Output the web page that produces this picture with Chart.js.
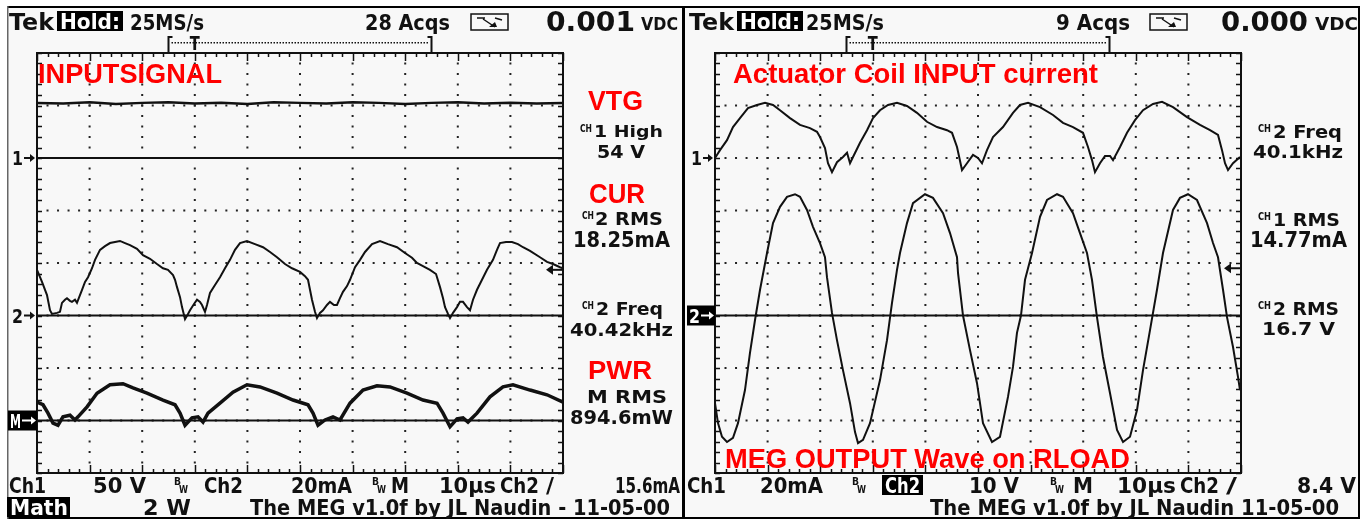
<!DOCTYPE html>
<html>
<head>
<meta charset="utf-8">
<script src="https://cdn.jsdelivr.net/npm/chart.js@4.4.1/dist/chart.umd.min.js"></script>
<style>
  body { margin: 0; background: #fff; width: 1362px; height: 520px; overflow: hidden; position: relative; }
  canvas { position: absolute; top: 0; }
  #left { left: 0; }
  #right { left: 682px; }
</style>
</head>
<body>
<canvas id="left" width="682" height="520"></canvas>
<canvas id="right" width="680" height="520"></canvas>
<script>
// time in µs (10 µs/div), level in screen divisions (0 = bottom, 8 = top)

// left screen: CH1 VTG, CH2 CUR, M PWR
const vtgTrace = [[0,7.05],[5,7.04],[10,7.06],[15,7.03],[20,7.05],[25,7.06],[30,7.04],[35,7.05],[40,7.03],[45,7.06],[50,7.05],[55,7.04],[60,7.06],[65,7.05],[70,7.03],[75,7.05],[80,7.06],[85,7.04],[90,7.05],[95,7.04],[100,7.05]];
const curTrace = [[0,3.87],[0.95,3.64],[1.9,3.39],[2.47,3.10],[2.85,3.03],[3.8,3.05],[4.37,3.07],[4.75,3.24],[5.32,3.30],[5.7,3.33],[6.27,3.28],[6.65,3.26],[7.22,3.30],[7.6,3.24],[8.17,3.39],[8.56,3.49],[9.13,3.64],[9.7,3.73],[10.46,3.90],[11.03,4.06],[11.98,4.25],[12.93,4.32],[13.88,4.38],[14.83,4.40],[15.78,4.42],[16.73,4.38],[17.68,4.34],[19.01,4.27],[20.15,4.15],[21.48,4.08],[22.81,3.98],[23.95,3.90],[24.9,3.87],[25.86,3.77],[26.24,3.68],[26.62,3.54],[27.19,3.35],[27.57,3.16],[28.14,2.93],[28.71,3.03],[29.09,3.10],[29.85,3.22],[30.42,3.30],[30.99,3.26],[31.37,3.20],[31.94,3.07],[32.32,3.20],[32.89,3.43],[33.84,3.58],[34.79,3.73],[35.74,3.90],[36.69,4.06],[37.64,4.25],[38.59,4.38],[39.92,4.42],[41.44,4.36],[42.97,4.30],[44.3,4.21],[45.63,4.11],[47.15,3.98],[48.48,3.90],[50,3.83],[50.95,3.75],[51.52,3.68],[51.9,3.49],[52.28,3.30],[52.85,3.07],[53.23,2.95],[53.8,3.05],[54.37,3.10],[55.13,3.20],[55.7,3.26],[56.46,3.20],[57.03,3.20],[57.6,3.33],[58.17,3.45],[58.94,3.56],[59.51,3.68],[60.46,3.92],[61.41,4.06],[62.36,4.21],[63.69,4.36],[65.21,4.42],[66.73,4.36],[68.44,4.30],[69.96,4.19],[71.29,4.10],[72.24,4.00],[73.38,3.94],[74.71,3.87],[75.86,3.79],[76.62,3.54],[77.19,3.33],[77.57,3.16],[78.14,3.03],[78.52,2.95],[79.09,3.05],[79.85,3.16],[80.42,3.26],[80.99,3.26],[81.75,3.16],[82.32,3.10],[82.89,3.30],[83.65,3.49],[84.6,3.68],[85.55,3.87],[86.69,4.06],[87.45,4.25],[88.02,4.38],[89.16,4.40],[90.3,4.40],[91.44,4.36],[92.4,4.30],[93.73,4.23],[95.63,4.11],[96.96,4.02],[98.1,3.98],[99.43,3.92],[100,3.90]];
const pwrTrace = [[0,1.35],[1.14,1.30],[2.09,1.14],[3.04,0.95],[3.99,0.91],[4.94,1.07],[6.27,1.10],[7.22,1.01],[7.79,1.07],[9.51,1.26],[11.41,1.52],[13.88,1.68],[16.35,1.70],[18.25,1.62],[20.91,1.52],[23.95,1.39],[26.24,1.30],[27.19,1.14],[28.14,0.91],[29.47,1.05],[30.61,1.07],[31.56,0.97],[32.51,1.14],[34.79,1.33],[37.26,1.54],[39.92,1.68],[42.4,1.64],[45.63,1.52],[48.67,1.39],[51.52,1.30],[52.47,1.14],[53.42,0.91],[54.75,1.01],[56.27,1.07],[57.6,1.01],[59.51,1.33],[61.98,1.58],[64.64,1.66],[67.11,1.64],[70.34,1.52],[73.38,1.39],[76.05,1.33],[77.19,1.14],[78.52,0.88],[79.85,1.03],[80.99,1.05],[81.94,0.97],[83.65,1.14],[86.12,1.45],[88.59,1.64],[90.49,1.68],[93.73,1.58],[96.96,1.49],[100,1.35]];
const leftGrounds = [6, 3, 1];

// right screen: CH1 coil current, CH2 MEG output
const coilTrace = [[0,6.00],[0.95,6.15],[2.28,6.34],[3.42,6.59],[4.75,6.76],[6.27,6.95],[7.98,7.01],[9.51,7.05],[11.03,7.01],[12.36,6.91],[14.26,6.76],[16.16,6.63],[18.06,6.57],[19.39,6.50],[19.96,6.40],[20.91,6.19],[21.48,5.90],[22.24,5.73],[23.19,5.92],[24.33,6.02],[25.1,6.10],[25.67,5.90],[26.24,6.02],[27.57,6.29],[28.9,6.53],[30.04,6.76],[31.37,6.91],[32.89,7.01],[34.6,7.05],[36.5,6.99],[38.4,6.86],[40.3,6.69],[42.21,6.59],[44.11,6.53],[45.06,6.48],[46.01,6.21],[46.96,5.77],[47.91,5.90],[49.05,6.06],[50,6.00],[50.76,5.90],[51.71,6.15],[52.85,6.40],[54.75,6.59],[56.65,6.86],[57.98,7.01],[59.51,7.05],[61.79,6.97],[64.26,6.82],[66.16,6.67],[68.06,6.59],[69.96,6.48],[70.91,6.21],[71.67,5.96],[72.24,5.73],[73.19,5.90],[74.14,6.04],[75.1,6.04],[75.67,5.96],[77,6.21],[78.33,6.48],[79.85,6.72],[81.37,6.91],[83.27,7.03],[84.98,7.07],[87.07,6.97],[89.73,6.78],[92.21,6.63],[94.11,6.53],[95.63,6.44],[96.39,6.15],[96.96,5.90],[97.53,5.77],[98.48,5.90],[99.81,6.02]];
const megTrace = [[0,1.33],[0.57,0.95],[1.33,0.69],[2.28,0.59],[3.42,0.67],[4.37,0.95],[5.7,1.58],[6.65,2.29],[7.6,2.91],[8.56,3.49],[9.89,4.19],[11.03,4.76],[12.36,5.07],[13.69,5.26],[15.21,5.31],[16.16,5.26],[17.49,5.01],[18.63,4.69],[19.96,4.38],[20.91,4.11],[21.29,3.73],[22.24,3.05],[23.19,2.53],[24.33,1.96],[25.67,1.33],[26.62,0.78],[27.19,0.57],[28.14,0.63],[29.47,0.95],[31.37,1.77],[32.7,2.53],[33.65,3.24],[34.6,3.87],[35.17,4.19],[36.5,4.76],[37.64,5.14],[39.92,5.31],[41.44,5.24],[43.35,4.95],[44.68,4.57],[46.01,4.11],[46.2,3.81],[47.15,3.00],[48.48,2.34],[49.81,1.71],[50.95,0.95],[52.66,0.59],[54.18,0.69],[55.7,1.45],[56.65,2.02],[57.41,2.67],[58.17,3.00],[58.94,3.68],[60.27,4.19],[61.79,4.88],[63.12,5.20],[65.02,5.31],[66.16,5.26],[68.06,4.95],[69.39,4.57],[70.72,4.19],[71.67,3.68],[72.62,2.97],[73.76,2.21],[75.1,1.52],[76.43,0.82],[77.57,0.59],[78.9,0.69],[80.23,1.20],[81.37,1.96],[82.7,2.72],[84.03,3.49],[85.17,4.19],[87.07,5.01],[88.4,5.24],[89.92,5.31],[91.63,5.20],[93.54,4.76],[94.68,4.38],[95.63,4.11],[96.58,3.49],[97.34,2.97],[98.48,2.40],[99.43,1.83],[99.81,1.58]];
const rightGrounds = [3];

const RED = '#ff0000';
const INK = '#111';

// text: [string, x0, x1, capTop, baseline, colour, inverseBox]
const leftTexts = [
  ['Tek', 9, 54, 13, 30], ['Hold:', 60, 120, 14, 29, '#fff', [57, 11, 123, 31]],
  ['25MS/s', 130, 204, 14, 30], ['28 Acqs', 365, 450, 14, 30],
  ['0.001', 546, 635, 12, 31], ['VDC', 641, 678, 17, 30],
  ['INPUTSIGNAL', 38, 222, 63, 83, RED], ['VTG', 588, 643, 90, 110, RED],
  ['CUR', 589, 645, 183, 203, RED], ['PWR', 588, 652, 360, 379, RED],
  ['CH', 580, 592, 125, 132], ['1 High', 594, 663, 125, 137], ['54 V', 597, 645, 145, 158],
  ['CH', 582, 594, 212, 219], ['2 RMS', 595, 663, 212, 225], ['18.25mA', 573, 670, 232, 247],
  ['CH', 582, 594, 302, 309], ['2 Freq', 596, 663, 302, 315], ['40.42kHz', 570, 673, 323, 336],
  ['M RMS', 587, 667, 390, 403], ['894.6mW', 570, 673, 410, 424],
  ['Ch1', 9, 46, 478, 493], ['50 V', 93, 146, 478, 493], ['B', 174, 181, 477, 485], ['W', 179, 188, 485, 493],
  ['Ch2', 204, 243, 478, 493], ['20mA', 291, 352, 478, 493], ['B', 372, 379, 477, 485], ['W', 377, 386, 485, 493],
  ['M', 391, 409, 478, 493], ['10µs', 439, 496, 478, 493], ['Ch2', 500, 539, 478, 493], ['/', 546, 554, 478, 493],
  ['15.6mA', 615, 680, 478, 493],
  ['Math', 10, 68, 500, 515, '#fff', [7, 497, 70, 517]], ['2 W', 143, 191, 500, 515],
  ['The MEG v1.0f by JL Naudin - 11-05-00', 250, 670, 499, 515]
];
const rightTexts = [
  ['Tek', 689, 734, 13, 30], ['Hold:', 740, 800, 14, 29, '#fff', [737, 11, 803, 31]],
  ['25MS/s', 806, 884, 14, 30], ['9 Acqs', 1056, 1130, 14, 30],
  ['0.000', 1221, 1308, 12, 31], ['VDC', 1315, 1358, 17, 30],
  ['Actuator Coil INPUT current', 733, 1098, 63, 83, RED],
  ['MEG OUTPUT Wave on RLOAD', 725, 1130, 448, 468, RED],
  ['CH', 1258, 1271, 125, 132], ['2 Freq', 1273, 1342, 125, 138], ['40.1kHz', 1253, 1343, 145, 158],
  ['CH', 1258, 1271, 213, 220], ['1 RMS', 1273, 1340, 213, 226], ['14.77mA', 1250, 1347, 232, 247],
  ['CH', 1258, 1271, 302, 309], ['2 RMS', 1273, 1339, 302, 315], ['16.7 V', 1262, 1335, 322, 335],
  ['Ch1', 687, 726, 478, 493], ['20mA', 760, 823, 478, 493], ['B', 852, 859, 477, 485], ['W', 857, 866, 485, 493],
  ['Ch2', 885, 920, 478, 493, '#fff', [882, 475, 923, 495]], ['10 V', 969, 1019, 478, 493],
  ['B', 1050, 1057, 477, 485], ['W', 1055, 1064, 485, 493], ['M', 1073, 1093, 478, 493],
  ['10µs', 1117, 1176, 478, 493], ['Ch2', 1180, 1219, 478, 493], ['/', 1226, 1237, 478, 493],
  ['8.4 V', 1297, 1356, 478, 493],
  ['The MEG v1.0f by JL Naudin 11-05-00', 930, 1339, 499, 515]
];

function fitText(ctx, s, x0, x1, top, base, color, family) {
  const size = (base - top) / 0.73;
  ctx.save();
  ctx.font = 'bold ' + size.toFixed(1) + 'px ' + family;
  const w = ctx.measureText(s).width || 1;
  ctx.translate(x0, base);
  ctx.scale((x1 - x0) / w, 1);
  ctx.fillStyle = color;
  ctx.textBaseline = 'alphabetic';
  ctx.fillText(s, 0, 0);
  ctx.restore();
}

function scopePlugin(cfg) {
  return {
    id: 'scope',
    beforeDraw(chart) {
      const ctx = chart.ctx, ox = cfg.ox;
      ctx.save();
      ctx.fillStyle = '#fff';
      ctx.fillRect(0, 0, chart.width, chart.height);
      ctx.fillStyle = '#f8f8f8';
      ctx.fillRect(cfg.frame[0] - ox, 8, cfg.frame[1] - cfg.frame[0], 510);
      // grid dots
      const xs = chart.scales.x, ys = chart.scales.y;
      ctx.fillStyle = '#222';
      for (let i = 1; i < 10; i++) {
        const px = xs.getPixelForValue(i * 10);
        for (let v = 0.2; v < 8; v += 0.2) ctx.fillRect(px - 1, ys.getPixelForValue(v) - 1, 2, 2);
      }
      for (let j = 1; j < 8; j++) {
        const py = ys.getPixelForValue(j);
        for (let t = 2; t < 100; t += 2) ctx.fillRect(xs.getPixelForValue(t) - 1, py - 1, 2, 2);
      }
      ctx.restore();
    },
    afterDatasetsDraw(chart) {
      const ctx = chart.ctx, ox = cfg.ox;
      const xs = chart.scales.x, ys = chart.scales.y;
      const a = chart.chartArea;
      ctx.save();
      // frame
      ctx.fillStyle = '#000';
      ctx.fillRect(cfg.frame[0] - ox, 6, cfg.frame[1] - cfg.frame[0], 2);
      ctx.fillRect(cfg.frame[0] - ox, 517, cfg.frame[1] - cfg.frame[0], 2);
      cfg.edges.forEach(([x, w, c]) => { ctx.fillStyle = c; ctx.fillRect(x - ox, 6, w, 513); });
      // border with rulers
      ctx.strokeStyle = '#111';
      ctx.lineWidth = 2;
      ctx.strokeRect(a.left, a.top, a.right - a.left, a.bottom - a.top);
      ctx.lineWidth = 1.5;
      ctx.beginPath();
      for (let k = 0; k <= 50; k++) {
        const px = Math.round(xs.getPixelForValue(k * 2)) + 0.5;
        const len = k % 5 === 0 ? 8 : 4;
        ctx.moveTo(px, a.top); ctx.lineTo(px, a.top + len);
        ctx.moveTo(px, a.bottom); ctx.lineTo(px, a.bottom - len);
      }
      for (let k = 0; k <= 40; k++) {
        const py = Math.round(ys.getPixelForValue(k * 0.2)) + 0.5;
        ctx.moveTo(a.left, py); ctx.lineTo(a.left + 5, py);
        ctx.moveTo(a.right, py); ctx.lineTo(a.right - 5, py);
      }
      ctx.stroke();
      // record bracket and trigger position
      const bx0 = xs.getPixelForValue(25), bx1 = xs.getPixelForValue(75), tx = xs.getPixelForValue(30);
      ctx.lineWidth = 2;
      ctx.beginPath();
      ctx.moveTo(bx0, 36); ctx.lineTo(bx0, a.top);
      ctx.moveTo(bx0, 37); ctx.lineTo(bx0 + 4, 37);
      ctx.moveTo(bx1, 36); ctx.lineTo(bx1, a.top);
      ctx.moveTo(bx1, 37); ctx.lineTo(bx1 - 4, 37);
      ctx.stroke();
      ctx.fillStyle = '#111';
      for (let x = bx0 + 3; x < bx1 - 2; x += 3) ctx.fillRect(x, 42, 1.5, 1.5);
      fitText(ctx, 'T', tx - 5, tx + 5, 36, 50, '#111', '"DejaVu Sans"');
      // trigger level arrow
      const ty = ys.getPixelForValue(cfg.trigLevel);
      ctx.beginPath();
      ctx.moveTo(a.right - 17, ty); ctx.lineTo(a.right - 10, ty - 5); ctx.lineTo(a.right - 10, ty + 5);
      ctx.closePath(); ctx.fill();
      ctx.fillRect(a.right - 11, ty - 1, 11, 2);
      // ground markers
      cfg.markers.forEach(([lab, x0, x1, level, inv]) => {
        const cy = ys.getPixelForValue(level);
        const lx0 = x0 - ox, lx1 = x1 - ox;
        const col = inv ? '#fff' : '#111';
        if (inv) { ctx.fillStyle = '#000'; ctx.fillRect(lx0, cy - 10, lx1 - lx0, 20); }
        fitText(ctx, lab, lx0 + 2, lx0 + 13, cy - 7, cy + 7, col, '"DejaVu Sans"');
        ctx.fillStyle = col;
        ctx.fillRect(lx0 + 14, cy - 1, lx1 - lx0 - 18, 2);
        ctx.beginPath();
        ctx.moveTo(lx1 - 1, cy); ctx.lineTo(lx1 - 6, cy - 4); ctx.lineTo(lx1 - 6, cy + 4);
        ctx.closePath(); ctx.fill();
      });
      // acquisition icon
      const ix = cfg.icon - ox;
      ctx.strokeStyle = '#111'; ctx.lineWidth = 1.5;
      ctx.strokeRect(ix, 14, 37, 16);
      ctx.beginPath();
      ctx.moveTo(ix + 6, 18); ctx.lineTo(ix + 14, 18);
      ctx.moveTo(ix + 12, 19); ctx.lineTo(ix + 24, 27);
      ctx.moveTo(ix + 24, 18); ctx.lineTo(ix + 31, 20);
      ctx.stroke();
      ctx.fillStyle = '#111';
      ctx.beginPath(); ctx.moveTo(ix + 18, 27); ctx.lineTo(ix + 26, 27); ctx.lineTo(ix + 24, 22); ctx.closePath(); ctx.fill();
      // texts
      cfg.texts.forEach(([s, x0, x1, top, base, color, box]) => {
        if (box) { ctx.fillStyle = '#000'; ctx.fillRect(box[0] - ox, box[1], box[2] - box[0], box[3] - box[1]); }
        const fam = color === RED ? '"Liberation Sans", Arial' : '"DejaVu Sans"';
        fitText(ctx, s, x0 - ox, x1 - ox, top, base, color || INK, fam);
      });
      ctx.restore();
    }
  };
}

function traceSet(points, width) {
  return {
    data: points.map(([x, y]) => ({ x, y })),
    borderColor: INK, borderWidth: width, pointRadius: 0, tension: 0, fill: false
  };
}
function groundSet(level) {
  return traceSet([[0, level], [100, level]], 2);
}

function makeScope(id, padLeft, padRight, datasets, cfg) {
  return new Chart(document.getElementById(id), {
    type: 'line',
    data: { datasets },
    options: {
      responsive: false,
      animation: false,
      events: [],
      layout: { padding: { left: padLeft, right: padRight, top: 53, bottom: 47 } },
      plugins: { legend: { display: false }, tooltip: { enabled: false } },
      scales: {
        x: { type: 'linear', min: 0, max: 100, display: false },
        y: { type: 'linear', min: 0, max: 8, display: false }
      }
    },
    plugins: [scopePlugin(cfg)]
  });
}

makeScope('left', 37, 119, [
  ...leftGrounds.map(groundSet),
  traceSet(vtgTrace, 2.5),
  traceSet(curTrace, 2),
  traceSet(pwrTrace, 3.5)
], {
  ox: 0, frame: [8, 682], edges: [[7, 1.5, '#666']], icon: 471, trigLevel: 3.87,
  texts: leftTexts,
  markers: [['1', 10, 36, 6, false], ['2', 10, 36, 3, false], ['M', 8, 37, 1, true]]
});

makeScope('right', 33, 121, [
  ...rightGrounds.map(groundSet),
  traceSet(coilTrace, 2),
  traceSet(megTrace, 2)
], {
  ox: 682, frame: [682, 1360], edges: [[681, 4, '#000'], [1358, 2, '#000']], icon: 1150, trigLevel: 3.9,
  texts: rightTexts,
  markers: [['1', 689, 714, 6, false], ['2', 687, 715, 3, true]]
});
</script>
</body>
</html>
